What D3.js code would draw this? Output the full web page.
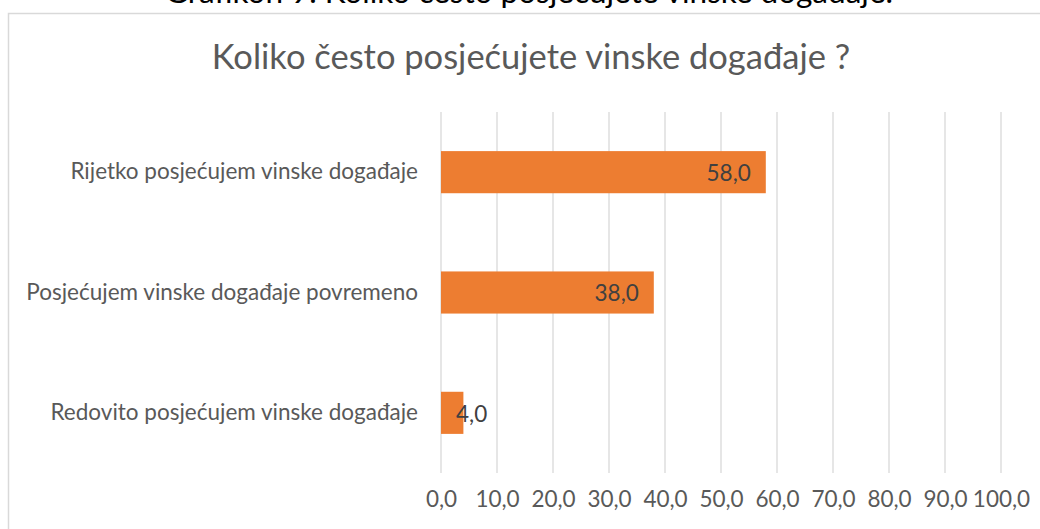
<!DOCTYPE html>
<html>
<head>
<meta charset="utf-8">
<script src="https://cdn.jsdelivr.net/npm/d3@7"></script>
<style>
  body { margin: 0; background: #fff; }
  svg { display: block; font-family: Lato, 'Open Sans', sans-serif; }
</style>
</head>
<body>
<div id="chart"></div>
<script>
// data
const categories = [
  'Rijetko posjećujem vinske događaje',
  'Posjećujem vinske događaje povremeno',
  'Redovito posjećujem vinske događaje',
]
const values = [58.0, 38.0, 4.0]
const xTicks = [0, 10, 20, 30, 40, 50, 60, 70, 80, 90, 100]
const chartTitle = 'Koliko često posjećujete vinske događaje ?'
const captionAbove = 'Grafikon 9. Koliko često posjećujete vinske događaje.'

const width = 1040
const height = 529
const margin = { top: 112, right: 39, bottom: 56, left: 441 }
const labelSize = 22.5
const fmt = (v) => d3.format('.1f')(v).replace('.', ',')

const svg = d3
  .select('#chart')
  .append('svg')
  .attr('width', width)
  .attr('height', height)

// caption of the document, cut off by the top edge
svg
  .append('text')
  .attr('x', 529)
  .attr('y', 2.5)
  .attr('text-anchor', 'middle')
  .attr('font-size', 31.5)
  .attr('fill', '#000')
  .text(captionAbove)

// chart frame
svg
  .append('rect')
  .attr('x', 8.5)
  .attr('y', 13.5)
  .attr('width', width + 20)
  .attr('height', height + 20)
  .attr('fill', '#fff')
  .attr('stroke', '#d9d9d9')
  .attr('stroke-width', 1.5)

svg
  .append('text')
  .attr('x', 531)
  .attr('y', 69)
  .attr('text-anchor', 'middle')
  .attr('font-size', 34.5)
  .attr('fill', '#595959')
  .text(chartTitle)

const x = d3
  .scaleLinear()
  .domain([0, 100])
  .range([margin.left, width - margin.right])

const y = d3
  .scaleBand()
  .domain(categories)
  .range([margin.top, height - margin.bottom])
  .paddingInner(0.65)
  .paddingOuter(0.325)

// vertical gridlines
svg
  .append('g')
  .selectAll('line')
  .data(xTicks)
  .enter()
  .append('line')
  .attr('x1', (d) => x(d))
  .attr('x2', (d) => x(d))
  .attr('y1', margin.top)
  .attr('y2', height - margin.bottom)
  .attr('stroke', '#d9d9d9')
  .attr('stroke-width', 1.3)

// x axis labels
const xAxis = svg
  .append('g')
  .attr('transform', `translate(0,${height - margin.bottom + 15})`)
  .call(d3.axisBottom(x).tickValues(xTicks).tickFormat(fmt).tickSize(0))
xAxis.select('.domain').remove()
xAxis
  .selectAll('text')
  .attr('font-family', 'Lato')
  .attr('font-size', labelSize)
  .attr('fill', '#595959')

// y axis labels
const yAxis = svg
  .append('g')
  .attr('transform', `translate(${margin.left - 20},0)`)
  .call(d3.axisLeft(y).tickSize(0))
yAxis.select('.domain').remove()
yAxis
  .selectAll('text')
  .attr('font-family', 'Lato')
  .attr('font-size', labelSize)
  .attr('fill', '#595959')

const rows = categories.map((c, i) => ({ name: c, value: values[i] }))

svg
  .selectAll('.bar')
  .data(rows)
  .enter()
  .append('rect')
  .attr('class', 'bar')
  .attr('x', x(0))
  .attr('y', (d) => y(d.name))
  .attr('width', (d) => x(d.value) - x(0))
  .attr('height', y.bandwidth())
  .attr('fill', '#ed7d31')

// data labels at the inside end, or just past the start when the bar is too short
svg
  .selectAll('.label')
  .data(rows)
  .enter()
  .append('text')
  .attr('class', 'label')
  .attr('font-size', labelSize)
  .attr('fill', '#404040')
  .attr('dy', '0.35em')
  .attr('y', (d) => y(d.name) + y.bandwidth() / 2 + 1)
  .attr('x', (d) => (d.value > 10 ? x(d.value) - 15 : x(0) + 15))
  .attr('text-anchor', (d) => (d.value > 10 ? 'end' : 'start'))
  .text((d) => fmt(d.value))
</script>
</body>
</html>
